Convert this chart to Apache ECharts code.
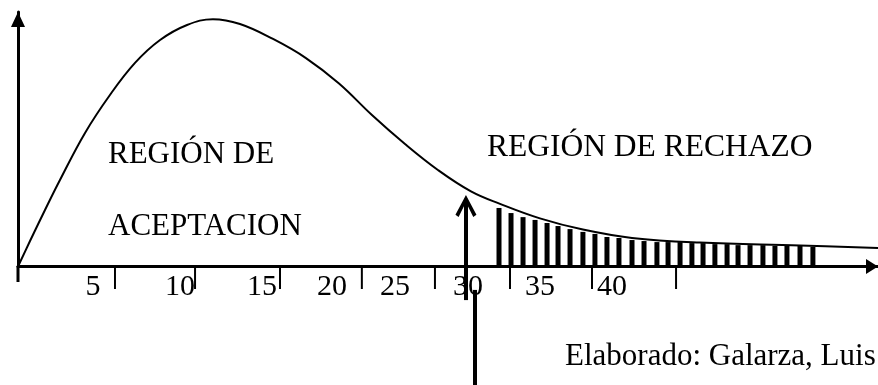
<!DOCTYPE html>
<html>
<head>
<meta charset="utf-8">
<title>Región de aceptación y rechazo</title>
<script src="https://cdn.jsdelivr.net/npm/echarts@6/dist/echarts.min.js"></script>
<style>
  html, body { margin: 0; padding: 0; background: #fff; }
  #main { width: 878px; height: 385px; }
</style>
</head>
<body>
<div id="main"></div>
<script>
const curveX = [0, 0.81, 1.82, 2.83, 4.52, 6.2, 7.89, 9.58, 11.4, 13.15, 14.97, 17.2, 19.42, 21.65, 23.87, 26.1, 28.32, 30.55, 32.51, 35.2, 38.1, 41.41, 45.99, 52.74, 58.0]
const curveY = [0, 10.0, 22.2, 34.0, 52.5, 67.4, 80.0, 89.0, 94.9, 97.2, 95.3, 89.4, 81.9, 71.9, 59.5, 48.1, 37.9, 29.5, 24.6, 18.9, 14.5, 11.2, 9.4, 8.3, 7.3]

// rayado de la region de rechazo
const hatchX = [32.44, 33.25, 34.06, 34.87, 35.68, 36.42, 37.23, 38.1, 38.91, 39.72, 40.53, 41.41, 42.22, 43.09, 43.84, 44.65, 45.45, 46.2, 47.0, 47.82, 48.56, 49.37, 50.24, 51.05, 51.86, 52.74, 53.61]
const hatchY = [23.0, 21.0, 19.4, 18.3, 17.1, 15.9, 14.7, 13.6, 12.8, 11.6, 11.2, 10.4, 10.0, 9.6, 9.6, 9.6, 9.2, 9.2, 8.8, 8.8, 8.4, 8.4, 8.4, 8.1, 8.1, 8.1, 7.7]

// marcas y etiquetas del eje x (dibujadas a mano, no coinciden)
const tickPos = [6.54, 11.94, 17.67, 23.19, 28.12, 33.18, 38.71, 44.38]
const labelPos = [5.06, 10.93, 16.46, 21.18, 25.42, 30.35, 35.2, 40.06]
const tickLabels = ['5', '10', '15', '20', '25', '30', '35', '40']

// flecha del valor critico
const arrowX = [30.21, 30.82]
const arrowUpY = [-13.2, 25.7]
const arrowDownY = [-9.2, -48.5]
const arrowHeadY = 23.8

const serif = "'Liberation Serif', 'Times New Roman', serif"

const myChart = echarts.init(document.getElementById('main'))

const ticks = [{ value: [0, 0], symbolSize: [3, 16], symbolOffset: [0, 7.5] }]
  .concat(tickPos.map(x => [x, 0]))

const option = {
  animation: false,
  backgroundColor: '#fff',
  grid: { left: 18, right: 0, top: 12, bottom: 118.5 },
  xAxis: {
    type: 'value',
    min: 0,
    max: 58,
    axisLine: {
      show: true,
      symbol: ['none', 'triangle'],
      symbolSize: [15, 12],
      symbolOffset: [0, -6],
      lineStyle: { color: '#000', width: 3 }
    },
    axisTick: { show: false },
    axisLabel: { show: false },
    splitLine: { show: false }
  },
  yAxis: {
    type: 'value',
    min: 0,
    max: 100,
    axisLine: {
      show: true,
      symbol: ['none', 'triangle'],
      symbolSize: [14, 15],
      symbolOffset: [0, -7.5],
      lineStyle: { color: '#000', width: 3 }
    },
    axisTick: { show: false },
    axisLabel: { show: false },
    splitLine: { show: false }
  },
  series: [
    {
      type: 'line',
      data: curveX.map((x, i) => [x, curveY[i]]),
      smooth: 0.4,
      showSymbol: false,
      clip: false,
      lineStyle: { color: '#000', width: 2 },
      z: 3
    },
    {
      type: 'bar',
      data: hatchX.map((x, i) => [x, hatchY[i]]),
      barWidth: 5,
      itemStyle: { color: '#000' },
      z: 2
    },
    {
      type: 'scatter',
      data: ticks,
      symbol: 'rect',
      symbolSize: [2, 21],
      symbolOffset: [0, 12],
      itemStyle: { color: '#000', opacity: 1 },
      clip: false
    },
    {
      type: 'scatter',
      data: labelPos.map((x, i) => ({ value: [x, 0], name: tickLabels[i] })),
      symbolSize: 0,
      clip: false,
      itemStyle: { opacity: 1 },
      label: {
        show: true,
        position: 'inside',
        offset: [0, 20.5],
        formatter: '{b}',
        color: '#000',
        fontSize: 30,
        fontFamily: serif,
        align: 'center',
        verticalAlign: 'middle'
      },
      z: 4
    },
    {
      type: 'lines',
      coordinateSystem: 'cartesian2d',
      clip: false,
      data: [
        { coords: [[arrowX[0], arrowUpY[0]], [arrowX[0], arrowUpY[1]]] },
        { coords: [[arrowX[1], arrowDownY[0]], [arrowX[1], arrowDownY[1]]] }
      ],
      lineStyle: { color: '#000', width: 4, opacity: 1 },
      z: 5
    },
    {
      type: 'scatter',
      data: [[arrowX[0], arrowHeadY]],
      symbol: 'path://M10,0 L20,19 L17,21 L10,7 L3,21 L0,19 Z',
      symbolSize: [21, 22],
      itemStyle: { color: '#000', opacity: 1 },
      clip: false,
      z: 5
    }
  ],
  graphic: [
    { type: 'text', style: { text: 'REGIÓN DE', x: 108, y: 154.5, font: '31px ' + serif, fill: '#000', verticalAlign: 'middle' } },
    { type: 'text', style: { text: 'ACEPTACION', x: 108, y: 226.5, font: '31px ' + serif, fill: '#000', verticalAlign: 'middle' } },
    { type: 'text', style: { text: 'REGIÓN DE RECHAZO', x: 487, y: 147.5, font: '31.5px ' + serif, fill: '#000', verticalAlign: 'middle' } },
    { type: 'text', style: { text: 'Elaborado: Galarza, Luis', x: 565, y: 356.5, font: '31px ' + serif, fill: '#000', verticalAlign: 'middle' } }
  ]
}

myChart.setOption(option)
</script>
</body>
</html>
